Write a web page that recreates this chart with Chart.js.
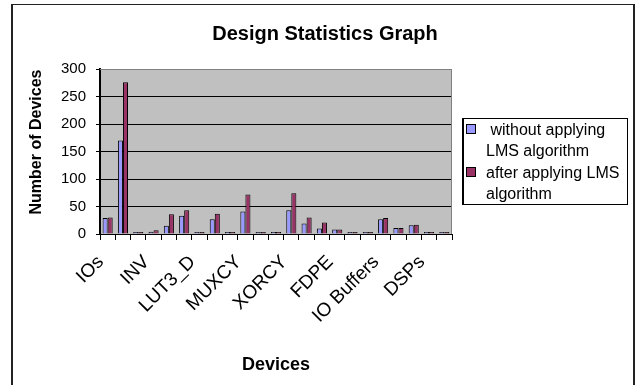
<!DOCTYPE html>
<html>
<head>
<meta charset="utf-8">
<script src="https://cdn.jsdelivr.net/npm/chart.js@4.4.1/dist/chart.umd.min.js"></script>
<style>
  html, body { margin: 0; padding: 0; background: #fff; }
  #wrap { position: relative; width: 637px; height: 385px; overflow: hidden; font-family: "Liberation Sans", Arial, sans-serif; }
  #frame { position: absolute; left: 11px; top: 4px; width: 620px; height: 400px;
           border-top: 1px solid #222; border-left: 2px solid #222; border-right: 2px solid #222; }
  #chart { position: absolute; left: 0; top: 0; }
  #title { position: absolute; left: 0; width: 650px; top: 21px; text-align: center;
           font-weight: bold; font-size: 20px; line-height: 24px; color: #000; }
  #ytitle { position: absolute; left: 35px; top: 142px; transform: translate(-50%, -50%) rotate(-90deg);
            white-space: nowrap; font-weight: bold; font-size: 16px; line-height: 19px; color: #000; }
  #legend { position: absolute; left: 462px; top: 118px; width: 163px; height: 85px;
            border: 1px solid #000; border-left-width: 2px; background: #fff;
            font-size: 16px; line-height: 21.3px; color: #000; }
  .item { position: relative; padding-left: 22px; white-space: nowrap; }
  .sw { position: absolute; left: 2px; top: 5px; width: 8px; height: 8px; border: 1px solid #000; }
</style>
</head>
<body>
<div id="wrap">
  <canvas id="chart" width="637" height="385"></canvas>
  <div id="frame"></div>
  <div id="title">Design Statistics Graph</div>
  <div id="ytitle">Number of Devices</div>
  <div id="legend"></div>
</div>
<script>
// Device categories (only every third one carries a printed name)
const categories = [
  "IOs", "", "", "INV", "", "", "LUT3_D", "", "", "MUXCY", "", "",
  "XORCY", "", "", "FDPE", "", "", "IO Buffers", "", "", "DSPs", ""
];
const seriesNames = ["without applying LMS algorithm", "after applying LMS algorithm"];
const legendLines = [["\u00a0without applying", "LMS algorithm"], ["after applying LMS", "algorithm"]];
const withoutLMS = [29, 170, 1, 4, 15, 33, 1, 27, 1, 41, 1, 1, 43, 19, 10, 8, 1, 1, 27, 11, 16, 1, 1];
const withLMS    = [30, 276, 1, 7, 36, 43, 1, 37, 1, 72, 1, 1, 74, 30, 21, 8, 1, 1, 29, 11, 17, 1, 1];
const yTicks = [0, 50, 100, 150, 200, 250, 300];
const colors = ["#9999FF", "#993366"];

const FONT = "'Liberation Sans', Arial, sans-serif";

// grey plot-area fill behind the grid, grey frame on top/right
const plotArea = {
  id: "plotArea",
  beforeDraw(chart) {
    const { ctx, chartArea: a } = chart;
    ctx.save();
    ctx.fillStyle = "#C0C0C0";
    ctx.fillRect(a.left, a.top, a.right - a.left, a.bottom - a.top);
    ctx.restore();
  },
  afterDraw(chart) {
    const { ctx, chartArea: a } = chart;
    ctx.save();
    ctx.strokeStyle = "#808080";
    ctx.lineWidth = 1;
    ctx.beginPath();
    ctx.moveTo(a.left, a.top + 0.5);
    ctx.lineTo(a.right - 0.5, a.top + 0.5);
    ctx.lineTo(a.right - 0.5, a.bottom);
    ctx.stroke();
    ctx.restore();
  }
};

new Chart(document.getElementById("chart"), {
  type: "bar",
  data: {
    labels: categories,
    datasets: [
      { label: seriesNames[0], data: withoutLMS, backgroundColor: colors[0], borderColor: "#000", borderWidth: 1 },
      { label: seriesNames[1], data: withLMS, backgroundColor: colors[1], borderColor: "#000", borderWidth: 1 }
    ]
  },
  options: {
    responsive: false,
    animation: false,
    devicePixelRatio: 1,
    layout: { padding: { top: 69, right: 185, left: 12, bottom: 0 } },
    datasets: { bar: { categoryPercentage: 0.66, barPercentage: 1.0, minBarLength: 2 } },
    plugins: { legend: { display: false }, title: { display: false }, tooltip: { enabled: false } },
    scales: {
      x: {
        offset: true,
        afterFit(scale) { scale.height = 151; },
        grid: { offset: true, drawOnChartArea: false, drawTicks: true, tickLength: 6, color: "#000", lineWidth: 1 },
        border: { color: "#000", width: 1 },
        ticks: {
          autoSkip: false, maxRotation: 45, minRotation: 45, padding: 11, labelOffset: -7,
          color: "#000", font: { family: FONT, size: 19 }
        },
        title: { display: true, text: "Devices", color: "#000", font: { family: FONT, size: 18, weight: "bold" }, padding: { top: 0, bottom: 9 } }
      },
      y: {
        min: 0, max: 300,
        afterFit(scale) { scale.width = 88; },
        afterBuildTicks(scale) { scale.ticks = yTicks.map(v => ({ value: v })); },
        grid: {
          color: ctx => (ctx.tick && ctx.tick.value === 300 ? "#808080" : "#000"),
          tickColor: "#000", lineWidth: 1, drawTicks: true, tickLength: 4
        },
        border: { color: "#000", width: 2 },
        ticks: { padding: 10, color: "#000", font: { family: FONT, size: 15 } }
      }
    }
  },
  plugins: [plotArea]
});

// legend box
const legend = document.getElementById("legend");
legendLines.forEach((lines, i) => {
  const item = document.createElement("div");
  item.className = "item";
  const sw = document.createElement("span");
  sw.className = "sw";
  sw.style.background = colors[i];
  item.appendChild(sw);
  item.appendChild(document.createTextNode(lines[0]));
  item.appendChild(document.createElement("br"));
  item.appendChild(document.createTextNode(lines[1]));
  legend.appendChild(item);
});
</script>
</body>
</html>
